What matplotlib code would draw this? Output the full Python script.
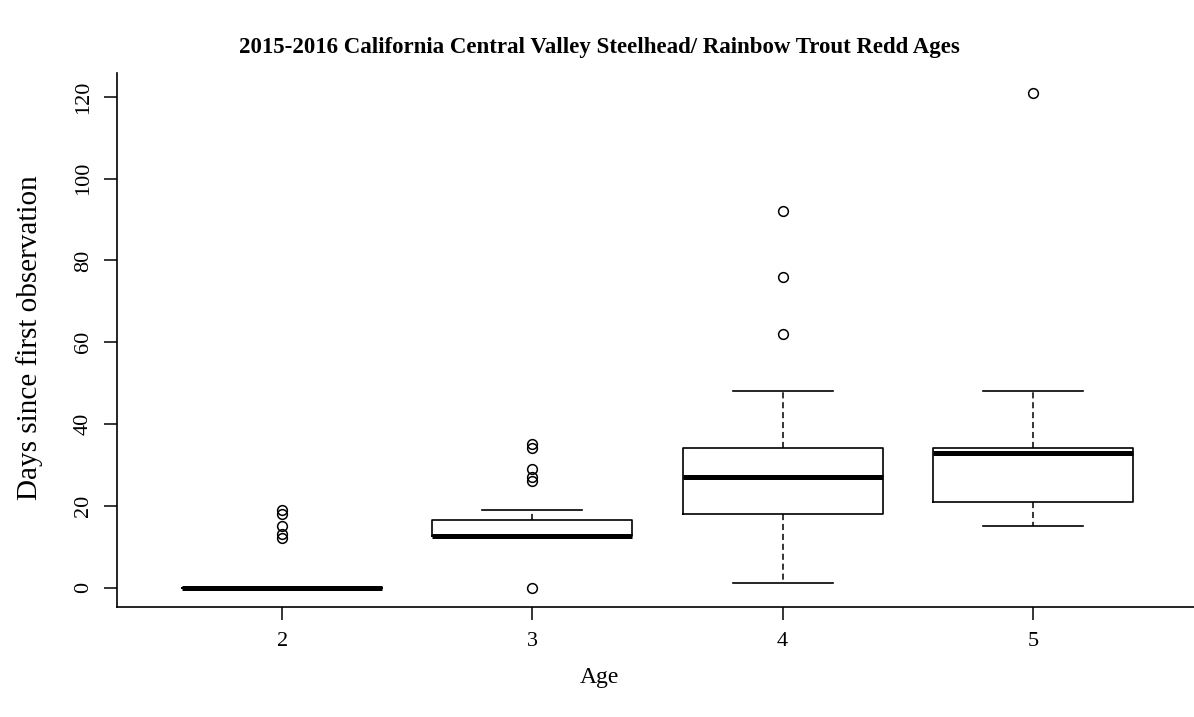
import matplotlib
matplotlib.use("Agg")
import matplotlib.pyplot as plt

# Resumen de cajas (dias desde la primera observacion)
ages = [2, 3, 4, 5]
medians = [0, 12.5, 27, 33]
q1s = [0, 12.5, 18, 21]
q3s = [0, 16.5, 34, 34]
whis_lo = [0, 12, 1, 15]
whis_hi = [0, 19, 48, 48]
outliers = [
    [12, 13, 15, 18, 19],
    [0, 26, 27, 29, 34, 35],
    [62, 76, 92],
    [121],
]
yticks = [0, 20, 40, 60, 80, 100, 120]

plt.rcParams["font.family"] = ["Liberation Serif", "DejaVu Serif"]

stats = []
for i in range(len(ages)):
    stats.append({
        "med": medians[i], "q1": q1s[i], "q3": q3s[i],
        "whislo": whis_lo[i], "whishi": whis_hi[i],
        "fliers": outliers[i], "label": str(ages[i]),
    })

fig = plt.figure(figsize=(11.94, 7.17), dpi=100)
# eje recortado a la derecha como en la imagen original
ax = fig.add_axes([117 / 1194, 1 - 607.3 / 717, (1198 - 117) / 1194, (607.3 - 73) / 717])

ax.bxp(stats, positions=ages, widths=0.8, capwidths=0.4,
       boxprops=dict(color="black", linewidth=1.2),
       medianprops=dict(color="black", linewidth=3.6, solid_capstyle="butt"),
       whiskerprops=dict(color="black", linewidth=1.1, linestyle=(0, (4, 2.5))),
       capprops=dict(color="black", linewidth=1.2),
       flierprops=dict(marker="o", markerfacecolor="none", markeredgecolor="black",
                       markersize=7, markeredgewidth=1.1))

ax.set_xlim(1.34, 5.66)
ax.set_ylim(-4.84, 125.84)
ax.set_yticks(yticks)
ax.set_yticklabels([str(t) for t in yticks], rotation=90, va="center")
ax.set_xticks(ages)
ax.set_xticklabels([str(a) for a in ages])

ax.spines["top"].set_visible(False)
ax.spines["right"].set_visible(False)
ax.spines["left"].set_linewidth(1.2)
ax.spines["bottom"].set_linewidth(1.2)
ax.tick_params(direction="out", length=9.5, width=1.1, labelsize=16, pad=8)

fig.text(599 / 1194, 1 - 47 / 717,
         "2015-2016 California Central Valley Steelhead/ Rainbow Trout Redd Ages",
         ha="center", va="center", fontsize=16.5, fontweight="bold")
fig.text(30 / 1194, 1 - 338 / 717, "Days since first observation",
         rotation=90, ha="center", va="center", fontsize=21)
fig.text(599 / 1194, 1 - 677 / 717, "Age", ha="center", va="center", fontsize=17)

fig.savefig("out.png", dpi=100)
